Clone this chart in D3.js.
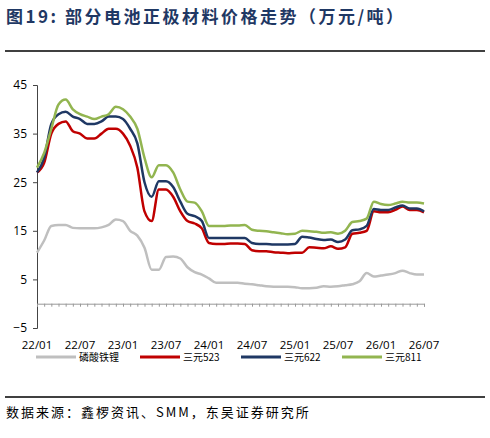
<!DOCTYPE html>
<html><head><meta charset="utf-8">
<script src="https://cdn.jsdelivr.net/npm/d3@7"></script>
<style>body{margin:0;background:#fff}</style>
</head><body>
<svg id="chart"></svg>
<script>
var W = 490, H = 438;
var svg = d3.select("#chart").attr("width", W).attr("height", H);

// monthly values, 22/01 .. 26/07
var lfp = [10.5,13,16,16.2,16.2,15.6,15.5,15.5,15.5,15.7,16.2,17.3,17,15,14,11.5,7,7,9.6,9.7,9.3,7.5,6.5,6,5.2,4.3,4.3,4.3,4.3,4.1,4,3.8,3.6,3.5,3.5,3.5,3.4,3.2,3.2,3.3,3.6,3.5,3.6,3.8,4,4.6,6.3,5.6,5.8,6,6.3,6.8,6.3,6,6];
var ncm523 = [27,29,35,37,37.5,35.5,35,34,34,35,36,36,35,32.5,28,19,17,23.5,23.5,22,19,17,16.5,15.5,12.5,12.3,12.3,12.4,12.4,12.3,11,10.8,10.8,10.6,10.5,10.4,10.5,10.5,11.6,11.5,11.4,11.8,11.3,11.6,14.4,14.6,15,19,18.8,18.8,19.3,20,19.3,19.3,18.8];
var ncm622 = [27,30,37,39,39.5,38.5,38,37,37,37.5,38.5,38.5,38,36,33,25,22,25.2,25.2,24,21,18.5,18,17,13.5,13.5,13.5,13.5,13.5,13.5,12.5,12.3,12.3,12.2,12.2,12.2,12.3,13.8,13.6,13.3,13.1,13.2,12.7,13.2,15.1,15.3,16,19.5,19.3,19.3,19.8,20.2,19.6,19.6,19];
var ncm811 = [28,31,36,41,42,40,39,38.5,38,38.5,39,40.5,40,38.5,36,30,26,28.5,28.5,27,23.5,21,20.8,19,16,16,16,16.1,16.1,16.2,15.2,15,14.9,14.7,14.5,14.3,14.4,15,14.9,14.8,14.6,14.7,14.4,15,16.8,17,17.5,21,20.5,20.3,20.6,21,20.8,20.8,20.6];
var xTickLabels = ["22/01","22/07","23/01","23/07","24/01","24/07","25/01","25/07","26/01","26/07"];
var yTicks = [-5,5,15,25,35,45];
var seriesNames = ["磷酸铁锂","三元523","三元622","三元811"];
var seriesColors = ["#bfbfbf","#c00000","#1f3864","#92b550"];
var series = [lfp, ncm523, ncm622, ncm811];

var x = d3.scaleLinear().domain([0, 54]).range([37, 424]);
var y = d3.scaleLinear().domain([-5, 45]).range([328, 85]);

svg.append("text").attr("x", 6).attr("y", 23)
  .style("font-family", "'Noto Sans CJK SC'").style("font-weight", "bold")
  .style("font-size", "17px").style("letter-spacing", "2.5px").style("fill", "#1f3864")
  .text("图19:  部分电池正极材料价格走势（万元/吨）");
svg.append("line").attr("x1", 5).attr("x2", 485).attr("y1", 51).attr("y2", 51)
  .style("stroke", "#000").style("stroke-width", 1.5);

// y axis
var ya = svg.append("g").attr("transform", "translate(37,0)")
  .call(d3.axisLeft(y).tickValues(yTicks).tickSize(4).tickPadding(6));
ya.selectAll("text").style("font-family", "'Open Sans'").style("font-size", "12px").style("fill", "#000");
ya.selectAll("line,path").style("stroke", "#444");

// x axis at zero
var xa = svg.append("g").attr("transform", "translate(0," + y(0) + ")")
  .call(d3.axisBottom(x).tickValues(d3.range(0, 55)).tickSize(3).tickFormat(""));
xa.selectAll("line,path").style("stroke", "#999");

svg.selectAll(".xl").data(xTickLabels).enter().append("text")
  .attr("x", function(d, i) { return x(i * 6); }).attr("y", 349)
  .attr("text-anchor", "middle")
  .style("font-family", "'Open Sans'").style("font-size", "11.5px").text(function(d) { return d; });

var line = d3.line().x(function(d, i) { return x(i); }).y(function(d) { return y(d); })
  .curve(d3.curveMonotoneX);
series.forEach(function(s, k) {
  svg.append("path").datum(s).attr("d", line)
    .style("fill", "none").style("stroke", seriesColors[k]).style("stroke-width", 2.5);
});

// legend
var lx = [36, 140, 241, 342];
seriesNames.forEach(function(n, k) {
  svg.append("line").attr("x1", lx[k]).attr("x2", lx[k] + 40).attr("y1", 357).attr("y2", 357)
    .style("stroke", seriesColors[k]).style("stroke-width", 3);
  svg.append("text").attr("x", lx[k] + 43).attr("y", 361)
    .style("font-family", "'Noto Sans CJK SC'").style("font-size", "10px").text(n);
});

svg.append("line").attr("x1", 5).attr("x2", 485).attr("y1", 397).attr("y2", 397)
  .style("stroke", "#000").style("stroke-width", 1.5);
svg.append("text").attr("x", 6).attr("y", 417)
  .style("font-family", "'Noto Sans CJK SC'").style("font-size", "13px").style("letter-spacing", "2px")
  .text("数据来源：鑫椤资讯、SMM，东吴证券研究所");
</script>
</body></html>
